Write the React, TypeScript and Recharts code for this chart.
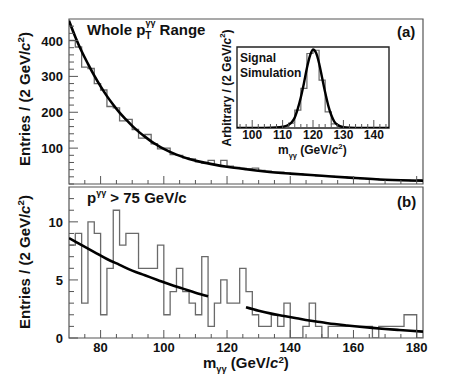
import { ComposedChart, Line, XAxis, YAxis, ReferenceArea } from 'recharts'

// Lower edges of the 2 GeV/c² bins (70 → 182)
const BIN_LO = [70, 72, 74, 76, 78, 80, 82, 84, 86, 88, 90, 92, 94, 96, 98, 100, 102, 104, 106, 108, 110, 112, 114, 116, 118, 120, 122, 124, 126, 128, 130, 132, 134, 136, 138, 140, 142, 144, 146, 148, 150, 152, 154, 156, 158, 160, 162, 164, 166, 168, 170, 172, 174, 176, 178, 180]
const BIN_HI_END = 182

// (a) whole pT range
const TOP_COUNTS = [400, 382, 326, 322, 280, 262, 216, 212, 176, 180, 152, 128, 138, 112, 98, 100, 82, 80, 73, 70, 62, 58, 66, 52, 66, 50, 46, 44, 43, 44, 38, 36, 33, 33, 30, 29, 28, 26, 24, 23, 22, 21, 19, 19, 17, 18, 15, 14, 14, 12, 12, 11, 11, 10, 9, 12]
const TOP_FIT_X = [70, 72, 74, 76, 78, 80, 82, 84, 86, 88, 90, 92, 94, 96, 98, 100, 104, 108, 112, 116, 120, 126, 132, 140, 150, 160, 170, 182]
const TOP_FIT_Y = [455, 410, 370, 335, 302, 272, 245, 221, 199, 180, 162, 146, 132, 119, 108, 98, 82, 70, 61, 54, 48, 41, 35, 29, 23, 17, 12, 9]

// (b) pT > 75 GeV/c
const BOTTOM_COUNTS = [8, 9, 3, 10, 9, 2, 6, 11, 8, 9, 9, 6, 6, 6, 8, 2, 4, 6, 4, 3, 2, 7, 1, 3, 5, 3, 3, 6, 4, 2, 1, 1, 2, 1, 3, 0, 0, 1, 3, 1, 0, 1, 1, 1, 1, 1, 1, 1, 0, 1, 1, 1, 1, 2, 2, 0]
const SIDE_LO_X = [70, 74, 78, 82, 86, 90, 94, 98, 102, 106, 110, 114]
const SIDE_LO_Y = [8.6, 8.0, 7.4, 6.8, 6.3, 5.8, 5.4, 5.0, 4.6, 4.25, 3.9, 3.6]
const SIDE_HI_X = [126, 130, 134, 138, 142, 146, 150, 154, 158, 162, 166, 170, 174, 178, 182]
const SIDE_HI_Y = [2.65, 2.35, 2.1, 1.9, 1.7, 1.5, 1.35, 1.2, 1.08, 0.97, 0.87, 0.78, 0.7, 0.62, 0.55]

// inset: signal simulation
const SIG_BIN_LO = [104, 106, 108, 110, 112, 114, 116, 118, 120, 122, 124, 126, 128, 130, 132, 134]
const SIG_COUNTS = [0, 0.005, 0.01, 0.015, 0.06, 0.22, 0.49, 0.92, 0.96, 0.59, 0.2, 0.05, 0.012, 0.004, 0, 0]
const SIG_FIT_X = [95, 104, 108, 110, 112, 113, 114, 115, 116, 117, 118, 119, 120, 121, 122, 123, 124, 125, 126, 127, 128, 130, 132, 136, 145]
const SIG_FIT_Y = [0, 0.002, 0.006, 0.015, 0.04, 0.07, 0.13, 0.24, 0.38, 0.55, 0.74, 0.89, 0.97, 0.93, 0.8, 0.62, 0.44, 0.28, 0.16, 0.08, 0.04, 0.01, 0.003, 0, 0]

// ticks
const MASS_TICKS = [75, 80, 85, 90, 95, 100, 105, 110, 115, 120, 125, 130, 135, 140, 145, 150, 155, 160, 165, 170, 175, 180]
const MASS_MAJOR = [80, 100, 120, 140, 160, 180]
const TOP_Y_TICKS = [0, 20, 40, 60, 80, 100, 120, 140, 160, 180, 200, 220, 240, 260, 280, 300, 320, 340, 360, 380, 400, 420, 440]
const TOP_Y_MAJOR = [100, 200, 300, 400]
const BOT_Y_TICKS = [0, 1, 2, 3, 4, 5, 6, 7, 8, 9, 10, 11, 12]
const BOT_Y_MAJOR = [0, 5, 10]
const SIG_TICKS = [96, 98, 100, 102, 104, 106, 108, 110, 112, 114, 116, 118, 120, 122, 124, 126, 128, 130, 132, 134, 136, 138, 140, 142, 144]
const SIG_MAJOR = [100, 110, 120, 130, 140]

const FONT = '"Liberation Sans", Arial, Helvetica, sans-serif'
const FRAME = '#555'
const HIST = '#6a6a6a'

const toSteps = (lo: number[], vals: number[], end: number) =>
  [...lo.map((x, i) => ({ x, y: vals[i] })), { x: end, y: vals[vals.length - 1] }]
const toPts = (xs: number[], ys: number[]) => xs.map((x, i) => ({ x, y: ys[i] }))

function XTick({ x, y, payload, majors, labels, size, dy }: any) {
  const major = majors.includes(payload.value)
  return (
    <g>
      <line x1={x} x2={x} y1={y} y2={y - (major ? 8 : 4)} stroke={FRAME} strokeWidth={1} />
      {labels && major && (
        <text x={x} y={y + dy} textAnchor="middle" fontSize={size} fontWeight="bold" fontFamily={FONT} fill="#111">
          {payload.value}
        </text>
      )}
    </g>
  )
}

function YTick({ x, y, payload, majors, labels }: any) {
  const major = majors.includes(payload.value)
  return (
    <g>
      <line x1={x} x2={x + (major ? 9 : 5)} y1={y} y2={y} stroke={FRAME} strokeWidth={1} />
      {labels.includes(payload.value) && (
        <text x={x - 6} y={y + 5} textAnchor="end" fontSize={13} fontWeight="bold" fontFamily={FONT} fill="#111">
          {payload.value}
        </text>
      )}
    </g>
  )
}

function AxisTitle({ x, y, rotate, size, lead }: { x: number; y: number; rotate?: boolean; size: number; lead: string }) {
  return (
    <text
      transform={`translate(${x},${y})${rotate ? ' rotate(-90)' : ''}`}
      textAnchor="middle" fontSize={size} fontWeight="bold" fontFamily={FONT} fill="#111"
    >
      {lead}(2 GeV/<tspan fontStyle="italic">c</tspan>
      <tspan dy={-6} fontSize={size * 0.65}>2</tspan>
      <tspan dy={6}>)</tspan>
    </text>
  )
}

function MassTitle({ x, y, size }: { x: number; y: number; size: number }) {
  return (
    <text x={x} y={y} fontSize={size} fontWeight="bold" fontFamily={FONT} fill="#111">
      m<tspan dy={4} fontSize={size * 0.62}>γγ</tspan>
      <tspan dy={-4}> (GeV/</tspan>
      <tspan fontStyle="italic">c</tspan>
      <tspan dy={-5} fontSize={size * 0.65}>2</tspan>
      <tspan dy={5}>)</tspan>
    </text>
  )
}

export default function App() {
  return (
    <div style={{ position: 'absolute', left: 0, top: 0, width: 474, height: 375, background: '#fff' }}>
      {/* (a) panel */}
      <div style={{ position: 'absolute', left: 0, top: 0 }}>
        <ComposedChart width={474} height={190} margin={{ top: 19, right: 51, bottom: 0, left: 0 }}>
          <XAxis type="number" dataKey="x" domain={[70, 182]} allowDataOverflow ticks={MASS_TICKS} interval={0}
            height={6} axisLine={false} tickLine={false} tickSize={0} tickMargin={0}
            tick={(p: any) => <XTick {...p} majors={MASS_MAJOR} labels={false} />} />
          <YAxis type="number" domain={[0, 460]} allowDataOverflow ticks={TOP_Y_TICKS} interval={0} width={69}
            axisLine={false} tickLine={false} tickSize={0} tickMargin={0}
            tick={(p: any) => <YTick {...p} majors={TOP_Y_MAJOR} labels={TOP_Y_MAJOR} />} />
          <Line data={toSteps(BIN_LO, TOP_COUNTS, BIN_HI_END)} dataKey="y" type="stepAfter" stroke={HIST}
            strokeWidth={1.3} dot={false} isAnimationActive={false} />
          <Line data={toPts(TOP_FIT_X, TOP_FIT_Y)} dataKey="y" type="monotone" stroke="#000"
            strokeWidth={2.6} dot={false} isAnimationActive={false} />
          <ReferenceArea x1={70} x2={182} y1={0} y2={460} fillOpacity={0} stroke={FRAME} strokeWidth={1.2} />
        </ComposedChart>
      </div>

      {/* (b) panel */}
      <div style={{ position: 'absolute', left: 0, top: 180 }}>
        <ComposedChart width={474} height={195} margin={{ top: 7, right: 51, bottom: 0, left: 0 }}>
          <XAxis type="number" dataKey="x" domain={[70, 182]} allowDataOverflow ticks={MASS_TICKS} interval={0}
            height={37} axisLine={false} tickLine={false} tickSize={0} tickMargin={0}
            tick={(p: any) => <XTick {...p} majors={MASS_MAJOR} labels size={13} dy={14} />} />
          <YAxis type="number" domain={[0, 13]} allowDataOverflow ticks={BOT_Y_TICKS} interval={0} width={69}
            axisLine={false} tickLine={false} tickSize={0} tickMargin={0}
            tick={(p: any) => <YTick {...p} majors={BOT_Y_MAJOR} labels={BOT_Y_MAJOR} />} />
          <Line data={toSteps(BIN_LO, BOTTOM_COUNTS, BIN_HI_END)} dataKey="y" type="stepAfter" stroke={HIST}
            strokeWidth={1.3} dot={false} isAnimationActive={false} />
          <Line data={toPts(SIDE_LO_X, SIDE_LO_Y)} dataKey="y" type="monotone" stroke="#000"
            strokeWidth={2.6} dot={false} isAnimationActive={false} />
          <Line data={toPts(SIDE_HI_X, SIDE_HI_Y)} dataKey="y" type="monotone" stroke="#000"
            strokeWidth={2.6} dot={false} isAnimationActive={false} />
          <ReferenceArea x1={70} x2={182} y1={0} y2={13} fillOpacity={0} stroke={FRAME} strokeWidth={1.2} />
        </ComposedChart>
      </div>

      {/* inset */}
      <div style={{ position: 'absolute', left: 0, top: 0 }}>
        <ComposedChart width={474} height={148} margin={{ top: 47, right: 85, bottom: 0, left: 237 }}>
          <XAxis type="number" dataKey="x" domain={[95, 145]} allowDataOverflow ticks={SIG_TICKS} interval={0}
            height={20} axisLine={false} tickLine={false} tickSize={0} tickMargin={0}
            tick={(p: any) => <XTick {...p} majors={SIG_MAJOR} labels size={12} dy={11} />} />
          <YAxis type="number" domain={[0, 1]} allowDataOverflow hide width={0} />
          <Line data={toSteps(SIG_BIN_LO, SIG_COUNTS, 136)} dataKey="y" type="stepAfter" stroke={HIST}
            strokeWidth={1.2} dot={false} isAnimationActive={false} />
          <Line data={toPts(SIG_FIT_X, SIG_FIT_Y)} dataKey="y" type="monotone" stroke="#000"
            strokeWidth={2.4} dot={false} isAnimationActive={false} />
          <ReferenceArea x1={95} x2={145} y1={0} y2={1} fillOpacity={0} stroke="#222" strokeWidth={1.4} />
        </ComposedChart>
      </div>

      {/* labels */}
      <svg width={474} height={375} style={{ position: 'absolute', left: 0, top: 0, pointerEvents: 'none' }}>
        <text x={87} y={35} fontSize={15} fontWeight="bold" fontFamily={FONT} fill="#111">
          Whole p<tspan dy={4} fontSize={10}>T</tspan>
          <tspan dx={-6} dy={-13} fontSize={9}>γγ</tspan>
          <tspan dy={9} fontSize={15}> Range</tspan>
        </text>
        <text x={397} y={37} fontSize={15} fontWeight="bold" fontFamily={FONT} fill="#111">(a)</text>
        <text x={397} y={207} fontSize={15} fontWeight="bold" fontFamily={FONT} fill="#111">(b)</text>
        <text x={87} y={203} fontSize={15} fontWeight="bold" fontFamily={FONT} fill="#111">
          p<tspan dy={-7} fontSize={9}>γγ</tspan>
          <tspan dy={7} fontSize={15}> &gt; 75 GeV/c</tspan>
        </text>
        <text x={240} y={62} fontSize={12} fontWeight="bold" fontFamily={FONT} fill="#111">Signal</text>
        <text x={240} y={77} fontSize={12} fontWeight="bold" fontFamily={FONT} fill="#111">Simulation</text>
        <AxisTitle x={30} y={99} rotate size={15} lead="Entries / " />
        <AxisTitle x={30} y={262} rotate size={15} lead="Entries / " />
        <AxisTitle x={231} y={88} rotate size={12} lead="Arbitrary / " />
        <MassTitle x={278} y={154} size={12} />
        <MassTitle x={203} y={368} size={15} />
      </svg>
    </div>
  )
}
